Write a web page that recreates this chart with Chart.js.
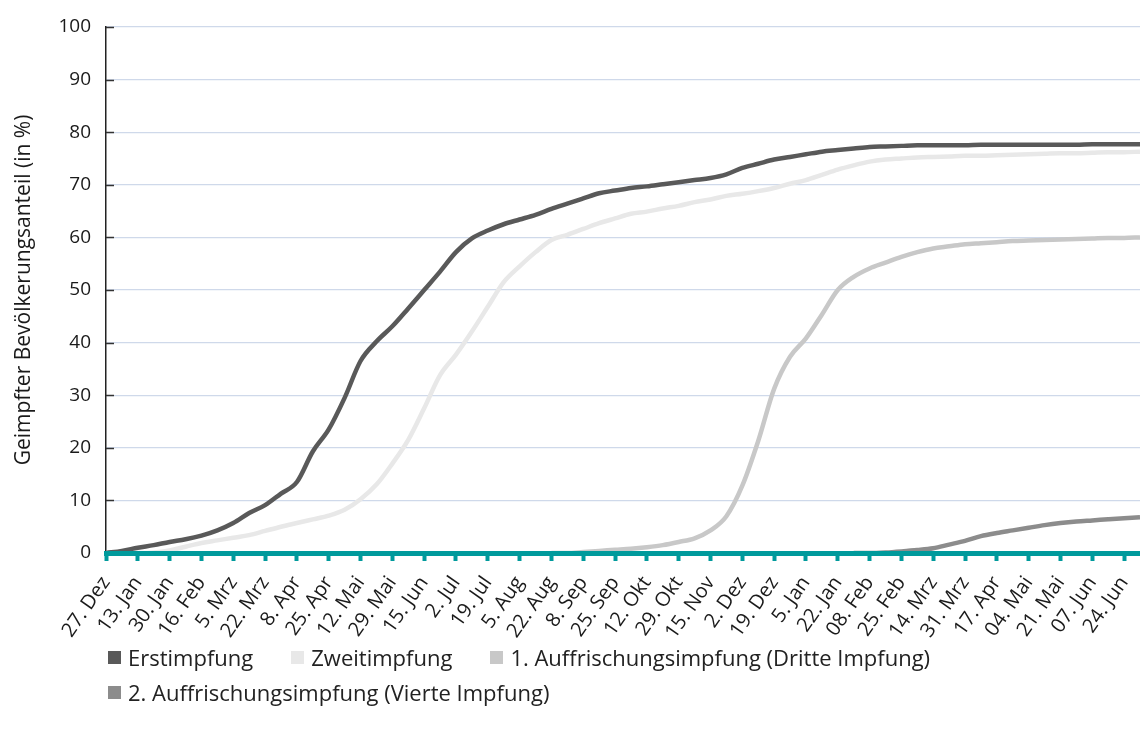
<!DOCTYPE html>
<html lang="de">
<head>
<meta charset="utf-8">
<title>Geimpfter Bevölkerungsanteil</title>
<script src="https://cdn.jsdelivr.net/npm/chart.js@4.4.1/dist/chart.umd.min.js"></script>
<style>
  html, body { margin: 0; padding: 0; background: #fff; }
  body { width: 1140px; height: 731px; position: relative; overflow: hidden; font-family: "Open Sans", sans-serif; }
  #chart { position: absolute; left: 0; top: 0; }
  #legend { position: absolute; left: 108px; top: 644px; width: 1000px; display: flex; flex-wrap: wrap; column-gap: 38px; row-gap: 9px; font-size: 22px; color: #222; }
  .legend-item { display: flex; align-items: center; height: 26px; white-space: nowrap; }
  .legend-box { width: 13px; height: 13px; margin-right: 7px; }
  .legend-item:nth-child(4) { flex-basis: 100%; }
</style>
</head>
<body>
<canvas id="chart" width="1140" height="731"></canvas>
<div id="legend"></div>
<script>
// Achsenbeschriftung alle 17 Tage ab 27.12.2020
const tickLabels = ['27. Dez', '13. Jan', '30. Jan', '16. Feb', '5. Mrz', '22. Mrz', '8. Apr', '25. Apr',
  '12. Mai', '29. Mai', '15. Jun', '2. Jul', '19. Jul', '5. Aug', '22. Aug', '8. Sep', '25. Sep',
  '12. Okt', '29. Okt', '15. Nov', '2. Dez', '19. Dez', '5. Jan', '22. Jan', '08. Feb', '25. Feb',
  '14. Mrz', '31. Mrz', '17. Apr', '04. Mai', '21. Mai', '07. Jun', '24. Jun'];

const days = [0, 8.5, 17, 25.5, 34, 42.5, 51, 59.5, 68, 76.5, 85, 93.5, 102, 110.5, 119, 127.5,
  136, 144.5, 153, 161.5, 170, 178.5, 187, 195.5, 204, 212.5, 221, 229.5, 238, 246.5, 255, 263.5,
  272, 280.5, 289, 297.5, 306, 314.5, 323, 331.5, 340, 348.5, 357, 365.5, 374, 382.5, 391, 399.5,
  408, 416.5, 425, 433.5, 442, 450.5, 459, 467.5, 476, 484.5, 493, 501.5, 510, 518.5, 527, 535.5,
  544, 552.5];

const erstimpfung = [0, 0.4, 1.0, 1.5, 2.1, 2.6, 3.3, 4.3, 5.7, 7.6, 9.1, 11.3, 13.5, 19.3, 23.5, 29.5,
  36.5, 40.2, 43.1, 46.5, 50.0, 53.5, 57.2, 59.8, 61.3, 62.5, 63.4, 64.3, 65.4, 66.4, 67.4, 68.4,
  68.9, 69.4, 69.7, 70.1, 70.5, 70.9, 71.3, 72.0, 73.2, 74.0, 74.8, 75.3, 75.8, 76.3, 76.6, 76.9,
  77.2, 77.3, 77.4, 77.5, 77.5, 77.5, 77.5, 77.6, 77.6, 77.6, 77.6, 77.6, 77.6, 77.6, 77.7, 77.7,
  77.7, 77.7];

const zweitimpfung = [0, 0, 0, 0.1, 0.5, 1.2, 1.9, 2.4, 2.9, 3.4, 4.2, 5.0, 5.7, 6.4, 7.1, 8.2,
  10.2, 13.0, 17.0, 21.5, 27.5, 33.8, 37.7, 42.1, 46.8, 51.5, 54.5, 57.2, 59.5, 60.5, 61.6, 62.7,
  63.6, 64.5, 64.9, 65.5, 66.0, 66.7, 67.2, 67.9, 68.3, 68.8, 69.4, 70.2, 70.9, 71.9, 72.9, 73.7,
  74.4, 74.8, 75.0, 75.2, 75.3, 75.4, 75.5, 75.5, 75.6, 75.7, 75.8, 75.9, 76.0, 76.0, 76.1, 76.2,
  76.2, 76.3];

const dritteImpfung = [null, null, null, null, null, null, null, null, null, null, null, null, null, null, null, null,
  null, null, null, null, null, null, null, null, null, null, null, null, 0, 0, 0.2, 0.4,
  0.6, 0.8, 1.1, 1.5, 2.1, 2.8, 4.3, 7.0, 12.8, 21.3, 31.2, 37.3, 40.8, 45.3, 50.0, 52.5,
  54.1, 55.2, 56.3, 57.2, 57.9, 58.3, 58.7, 58.9, 59.1, 59.3, 59.4, 59.5, 59.6, 59.7, 59.8, 59.9,
  59.9, 60.0];

const vierteImpfung = [null, null, null, null, null, null, null, null, null, null, null, null, null, null, null, null,
  null, null, null, null, null, null, null, null, null, null, null, null, null, null, null, null,
  null, null, null, null, null, null, null, null, null, null, null, null, null, null, null, 0,
  0, 0.1, 0.3, 0.55, 0.9, 1.6, 2.3, 3.2, 3.8, 4.3, 4.8, 5.3, 5.7, 6.0, 6.2, 6.4,
  6.6, 6.8];

const seriesNames = ['Erstimpfung', 'Zweitimpfung', '1. Auffrischungsimpfung (Dritte Impfung)', '2. Auffrischungsimpfung (Vierte Impfung)'];
const seriesColors = ['#595959', '#e8e8e8', '#c8c8c8', '#8c8c8c'];
const seriesValues = [erstimpfung, zweitimpfung, dritteImpfung, vierteImpfung];

const FONT = '"Open Sans", "Noto Sans", sans-serif';
const TEAL = '#009a9c';
const TEXT = '#1a1a1a';

const datasets = seriesValues.map((values, s) => ({
    label: seriesNames[s],
    data: days.map((d, i) => ({ x: d, y: values[i] })),
    borderColor: seriesColors[s],
    backgroundColor: seriesColors[s],
    borderWidth: 4.5,
    pointRadius: 0,
    cubicInterpolationMode: 'monotone',
    fill: false
}));

// kleine Striche rechts neben der y-Achse
const innerTicks = {
    id: 'innerTicks',
    afterDatasetsDraw(chart) {
        const y = chart.scales.y;
        const ctx = chart.ctx;
        ctx.save();
        ctx.strokeStyle = '#333';
        ctx.lineWidth = 1.5;
        y.ticks.forEach(t => {
            if (t.value === 0) return;
            const py = Math.round(y.getPixelForValue(t.value)) + 0.5;
            ctx.beginPath();
            ctx.moveTo(y.right, py);
            ctx.lineTo(y.right + 8, py);
            ctx.stroke();
        });
        ctx.restore();
    }
};

new Chart(document.getElementById('chart'), {
    type: 'line',
    data: { datasets },
    plugins: [innerTicks],
    options: {
        responsive: false,
        animation: false,
        layout: { padding: { top: 27, right: 0, bottom: 0, left: 0 } },
        plugins: {
            legend: { display: false },
            tooltip: { enabled: false }
        },
        scales: {
            x: {
                type: 'linear',
                min: 0,
                max: 552.5,
                afterFit: (s) => { s.height = 178; s.paddingLeft = 0; s.paddingRight = 0; },
                ticks: {
                    stepSize: 17,
                    includeBounds: false,
                    autoSkip: false,
                    maxTicksLimit: 100,
                    minRotation: 55,
                    maxRotation: 55,
                    padding: 11,
                    color: TEXT,
                    font: { family: FONT, size: 20 },
                    callback: (v) => tickLabels[Math.round(v / 17)] ?? ''
                },
                grid: { z: 1, drawOnChartArea: false, drawTicks: true, tickLength: 8, tickWidth: 4, tickColor: TEAL },
                border: { z: 1, color: TEAL, width: 5 }
            },
            y: {
                min: 0,
                max: 100,
                afterFit: (s) => { s.width = 106; s.paddingTop = 0; s.paddingBottom = 0; },
                ticks: {
                    stepSize: 10,
                    padding: 15,
                    color: TEXT,
                    font: { family: FONT, size: 19 }
                },
                grid: { color: '#cfd9ea', lineWidth: 1.2, drawTicks: false },
                border: { color: '#222', width: 1.5 },
                title: {
                    display: true,
                    text: 'Geimpfter Bevölkerungsanteil (in %)',
                    color: TEXT,
                    font: { family: FONT, size: 21 },
                    padding: { top: 11, bottom: 0 }
                }
            }
        }
    }
});

// Legende
const legend = document.getElementById('legend');
seriesNames.forEach((name, i) => {
    const item = document.createElement('div');
    item.className = 'legend-item';
    item.innerHTML = `<span class="legend-box" style="background:${seriesColors[i]}"></span><span>${name}</span>`;
    legend.appendChild(item);
});
</script>
</body>
</html>
